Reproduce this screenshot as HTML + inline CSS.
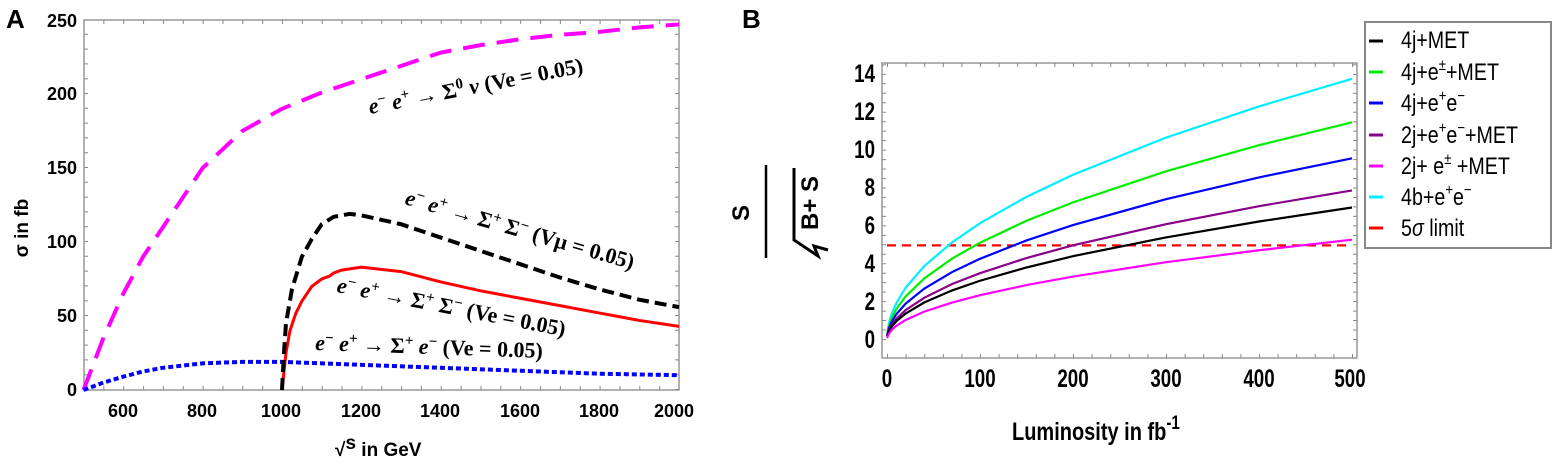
<!DOCTYPE html>
<html><head><meta charset="utf-8"><style>
html,body{margin:0;padding:0;background:#fff;}
svg{display:block;}
.t{font-family:"Liberation Sans",sans-serif;font-weight:bold;}
.s{font-family:"Liberation Serif",serif;font-weight:bold;font-size:22px;fill:#000;}
</style></head><body>
<svg width="1559" height="473" viewBox="0 0 1559 473" xmlns="http://www.w3.org/2000/svg">
<!-- Panel A -->
<text x="6" y="28" class="t" font-size="26">A</text>
<rect x="84" y="20" width="595" height="370" fill="none" stroke="#999" stroke-width="1.5"/>
<line x1="83.5" y1="388" x2="679" y2="388" stroke="#888" stroke-width="4" stroke-dasharray="1 18.85"/>
<line x1="83.5" y1="22" x2="679" y2="22" stroke="#888" stroke-width="4" stroke-dasharray="1 18.85"/>
<line x1="86" y1="390" x2="86" y2="20" stroke="#888" stroke-width="4" stroke-dasharray="1 13.8"/>
<line x1="677" y1="390" x2="677" y2="20" stroke="#888" stroke-width="4" stroke-dasharray="1 13.8"/>
<g class="t" font-size="18" fill="#000" text-anchor="end">
<text x="77" y="396">0</text><text x="77" y="322">50</text><text x="77" y="248">100</text>
<text x="77" y="174">150</text><text x="77" y="100">200</text><text x="77" y="27">250</text>
</g>
<g class="t" font-size="18" fill="#000" text-anchor="middle">
<text x="123" y="417">600</text><text x="202" y="417">800</text><text x="281" y="417">1000</text>
<text x="361" y="417">1200</text><text x="440" y="417">1400</text><text x="520" y="417">1600</text>
<text x="599" y="417">1800</text><text x="674" y="417">2000</text>
</g>
<text class="t" font-size="19" transform="translate(28,228) rotate(-90)" text-anchor="middle">σ in fb</text>
<text class="t" font-size="19" x="335" y="456">√<tspan dy="-7">s</tspan><tspan dy="7"> in GeV</tspan></text>
<g transform="translate(-115,390) scale(0.397,-1.48)" fill="none">
<polyline vector-effect="non-scaling-stroke" stroke="#f0f" stroke-width="4" stroke-dasharray="22 12" points="500,0 550,35 600,65 650,90 700,110 800,150 900,175 1000,190 1100,201 1200,210 1300,219 1400,228 1500,233 1600,237 1700,240 1800,242 1900,245 2000,247"/>
<polyline vector-effect="non-scaling-stroke" stroke="#00f" stroke-width="4" stroke-dasharray="5 3" points="500,0 550,5 600,9 650,12.5 700,15 800,18 900,19 1000,19 1200,17 1400,15 1600,13 1800,11 2000,10"/>
<polyline vector-effect="non-scaling-stroke" stroke="#f00" stroke-width="3" points="1000,0 1010,25 1020,40 1035,52 1050,60 1075,70 1100,75 1120,77 1130,79 1150,81 1200,83 1300,80 1400,73 1500,67 1600,62 1700,57 1800,52 1900,47 2000,43"/>
<polyline vector-effect="non-scaling-stroke" stroke="#000" stroke-width="4" stroke-dasharray="12 6" points="1000,0 1005,25 1010,45 1025,68 1050,90 1075,102 1100,112 1130,117 1170,119 1200,118 1300,112 1400,103 1500,94 1600,85 1700,76 1800,68 1900,61 2000,56"/>
</g>
<text class="s" transform="translate(370,114) rotate(-11)"><tspan font-style="italic">e</tspan><tspan dy="-8" font-size="15">−</tspan><tspan dy="8" font-style="italic"> e</tspan><tspan dy="-8" font-size="15">+</tspan><tspan dy="8"> → Σ</tspan><tspan dy="-8" font-size="15">0</tspan><tspan dy="8" font-style="italic"> ν</tspan> (Ve = 0.05)</text>
<text class="s" transform="translate(404,204) rotate(16)"><tspan font-style="italic">e</tspan><tspan dy="-8" font-size="15">−</tspan><tspan dy="8" font-style="italic"> e</tspan><tspan dy="-8" font-size="15">+</tspan><tspan dy="8"> → Σ</tspan><tspan dy="-8" font-size="15">+</tspan><tspan dy="8"> Σ</tspan><tspan dy="-8" font-size="15">−</tspan><tspan dy="8"> (Vμ = 0.05)</tspan></text>
<text class="s" transform="translate(336,292) rotate(11)"><tspan font-style="italic">e</tspan><tspan dy="-8" font-size="15">−</tspan><tspan dy="8" font-style="italic"> e</tspan><tspan dy="-8" font-size="15">+</tspan><tspan dy="8"> → Σ</tspan><tspan dy="-8" font-size="15">+</tspan><tspan dy="8"> Σ</tspan><tspan dy="-8" font-size="15">−</tspan><tspan dy="8"> (Ve = 0.05)</tspan></text>
<text class="s" transform="translate(315,350) rotate(2)"><tspan font-style="italic">e</tspan><tspan dy="-8" font-size="15">−</tspan><tspan dy="8" font-style="italic"> e</tspan><tspan dy="-8" font-size="15">+</tspan><tspan dy="8"> → Σ</tspan><tspan dy="-8" font-size="15">+</tspan><tspan dy="8" font-style="italic"> e</tspan><tspan dy="-8" font-size="15">−</tspan><tspan dy="8"> (Ve = 0.05)</tspan></text>

<!-- Panel B -->
<text x="742" y="28" class="t" font-size="26">B</text>
<rect x="882" y="63" width="475" height="295" fill="none" stroke="#999" stroke-width="1.5"/>
<line x1="887" y1="356" x2="1357" y2="356" stroke="#888" stroke-width="4" stroke-dasharray="1 17.6" />
<line x1="887" y1="65" x2="1357" y2="65" stroke="#888" stroke-width="4" stroke-dasharray="1 17.6" />
<line x1="884" y1="340" x2="884" y2="63" stroke="#888" stroke-width="4" stroke-dasharray="1 8.47"/>
<line x1="1355" y1="340" x2="1355" y2="63" stroke="#888" stroke-width="4" stroke-dasharray="1 8.47"/>
<g class="t" font-size="25" fill="#000" text-anchor="end">
<text transform="translate(875,348) scale(0.75,1)">0</text>
<text transform="translate(875,310) scale(0.75,1)">2</text>
<text transform="translate(875,272) scale(0.75,1)">4</text>
<text transform="translate(875,234) scale(0.75,1)">6</text>
<text transform="translate(875,196) scale(0.75,1)">8</text>
<text transform="translate(875,158) scale(0.75,1)">10</text>
<text transform="translate(875,120) scale(0.75,1)">12</text>
<text transform="translate(875,82) scale(0.75,1)">14</text>
</g>
<g class="t" font-size="25" fill="#000" text-anchor="middle">
<text transform="translate(887,387) scale(0.75,1)">0</text>
<text transform="translate(980,387) scale(0.75,1)">100</text>
<text transform="translate(1073,387) scale(0.75,1)">200</text>
<text transform="translate(1166,387) scale(0.75,1)">300</text>
<text transform="translate(1259,387) scale(0.75,1)">400</text>
<text transform="translate(1350,387) scale(0.75,1)">500</text>
</g>
<text class="t" font-size="25" transform="translate(1012,440) scale(0.8,1)">Luminosity in fb<tspan dy="-11" font-size="19">-1</tspan></text>
<line x1="766" y1="165" x2="766" y2="258" stroke="#000" stroke-width="2.5"/>
<text class="t" font-size="24" transform="translate(749,213) rotate(-90)" text-anchor="middle">S</text>
<path d="M794,168 V240 L818,256 L814,246 L828,250" fill="none" stroke="#000" stroke-width="3"/>
<text class="t" font-size="24" transform="translate(818,203) rotate(-90)" text-anchor="middle">B+ S</text>
<g transform="translate(887,340) scale(0.93,-18.93)" fill="none" stroke-width="2.2">
<line vector-effect="non-scaling-stroke" x1="0" y1="5" x2="500" y2="5" stroke="#f00" stroke-dasharray="9 6"/>
<polyline vector-effect="non-scaling-stroke" stroke="#0ef" stroke-width="2.2" points="0,0.2 2,.87 5,1.38 10,1.95 20,2.76 40,3.90 70,5.16 100,6.17 150,7.56 200,8.73 300,10.69 400,12.34 500,13.8"/>
<polyline vector-effect="non-scaling-stroke" stroke="#0e0" stroke-width="2.2" points="0,0.2 2,.73 5,1.15 10,1.63 20,2.30 40,3.25 70,4.30 100,5.14 150,6.30 200,7.27 300,8.91 400,10.29 500,11.5"/>
<polyline vector-effect="non-scaling-stroke" stroke="#00f" stroke-width="2.2" points="0,0.2 2,.61 5,.96 10,1.36 20,1.92 40,2.71 70,3.59 100,4.29 150,5.26 200,6.07 300,7.44 400,8.59 500,9.6"/>
<polyline vector-effect="non-scaling-stroke" stroke="#808" stroke-width="2.2" points="0,0.2 2,.50 5,.79 10,1.12 20,1.58 40,2.23 70,2.96 100,3.53 150,4.33 200,5.00 300,6.12 400,7.07 500,7.9"/>
<polyline vector-effect="non-scaling-stroke" stroke="#000" stroke-width="2.2" points="0,0.2 2,.44 5,.70 10,.99 20,1.40 40,1.98 70,2.62 100,3.13 150,3.83 200,4.43 300,5.42 400,6.26 500,7.0"/>
<polyline vector-effect="non-scaling-stroke" stroke="#f0f" stroke-width="2.2" points="0,0.1 2,.33 5,.53 10,.75 20,1.06 40,1.50 70,1.98 100,2.37 150,2.90 200,3.35 300,4.11 400,4.74 500,5.3"/>
</g>
<!-- legend -->
<g font-family="Liberation Sans,sans-serif" font-size="24" fill="#000">
<text transform="translate(1401,48) scale(0.82,1)">4j+MET</text>
<text transform="translate(1401,80) scale(0.82,1)">4j+e<tspan dy="-10" font-size="16">±</tspan><tspan dy="10">+MET</tspan></text>
<text transform="translate(1401,111) scale(0.82,1)">4j+e<tspan dy="-10" font-size="16">+</tspan><tspan dy="10">e</tspan><tspan dy="-10" font-size="16">−</tspan></text>
<text transform="translate(1401,143) scale(0.82,1)">2j+e<tspan dy="-10" font-size="16">+</tspan><tspan dy="10">e</tspan><tspan dy="-10" font-size="16">−</tspan><tspan dy="10">+MET</tspan></text>
<text transform="translate(1401,174) scale(0.82,1)">2j+ e<tspan dy="-10" font-size="16">±</tspan><tspan dy="10"> +MET</tspan></text>
<text transform="translate(1401,205) scale(0.82,1)">4b+e<tspan dy="-10" font-size="16">+</tspan><tspan dy="10">e</tspan><tspan dy="-10" font-size="16">−</tspan></text>
<text transform="translate(1401,236) scale(0.82,1)">5<tspan font-style="italic">σ</tspan>  limit</text>
</g>
<rect x="1552" y="20" width="7" height="232" fill="#fff"/>
<rect x="1365" y="22" width="186" height="226" fill="none" stroke="#888" stroke-width="2"/>
<g stroke-width="3">
<line x1="1369" y1="41" x2="1383" y2="41" stroke="#000"/>
<line x1="1369" y1="72" x2="1383" y2="72" stroke="#0e0"/>
<line x1="1369" y1="103" x2="1383" y2="103" stroke="#00f"/>
<line x1="1369" y1="135" x2="1383" y2="135" stroke="#808"/>
<line x1="1369" y1="166" x2="1383" y2="166" stroke="#f0f"/>
<line x1="1369" y1="197" x2="1383" y2="197" stroke="#0ef"/>
<line x1="1369" y1="228" x2="1383" y2="228" stroke="#f00"/>
</g>
</svg>
</body></html>
